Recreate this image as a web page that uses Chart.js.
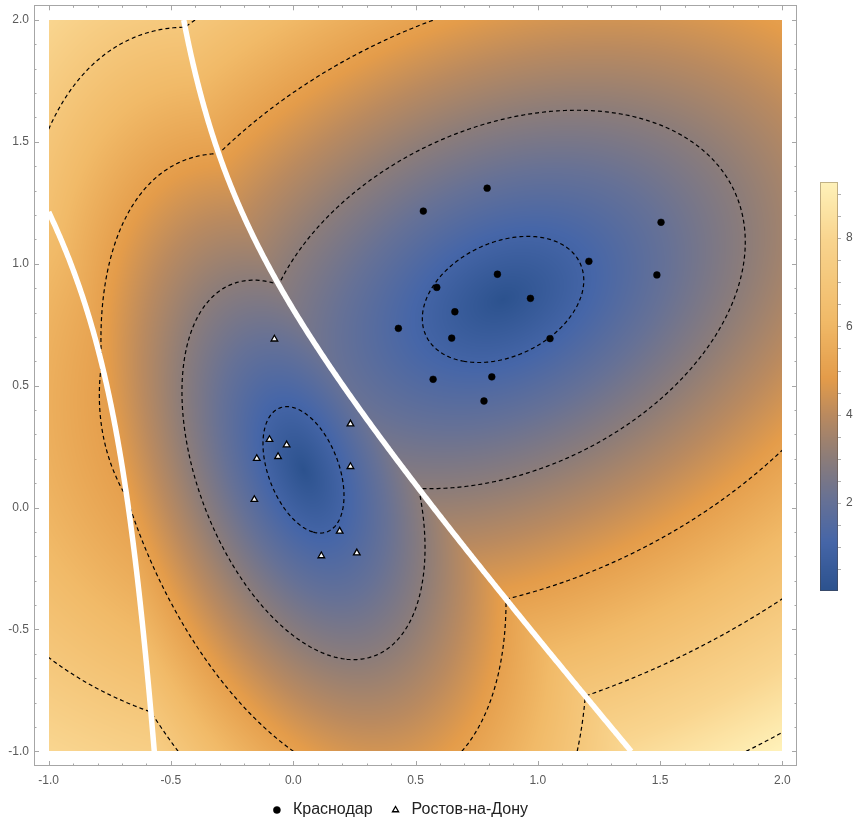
<!DOCTYPE html>
<html>
<head>
  <meta charset="utf-8">
  <title>Краснодар / Ростов-на-Дону</title>
  <script src="https://cdnjs.cloudflare.com/ajax/libs/Chart.js/4.4.0/chart.umd.min.js"></script>
  <style>
    html, body {
      margin: 0;
      padding: 0;
      background-color: #ffffff;
    }
    canvas {
      display: block;
    }
  </style>
</head>
<body>
  <canvas id="myChart" width="856" height="822"></canvas>

  <script>
    // Точки двух классов
    const krasnodarX = [0.793, 0.532, 1.504, 1.209, 1.487, 0.835, 0.587, 0.970, 0.661, 0.430, 0.648, 1.050, 0.572, 0.812, 0.780];
    const krasnodarY = [1.310, 1.216, 1.170, 1.010, 0.954, 0.957, 0.903, 0.858, 0.803, 0.735, 0.695, 0.693, 0.526, 0.536, 0.437];
    const rostovX = [-0.077, 0.234, -0.097, -0.027, -0.149, -0.062, 0.234, -0.159, 0.190, 0.115, 0.260];
    const rostovY = [0.691, 0.343, 0.279, 0.257, 0.201, 0.209, 0.168, 0.033, -0.097, -0.198, -0.186];
    const seriesNames = ['Краснодар', 'Ростов-на-Дону'];

    // оси и уровни
    const plotRange = [-1, 2];
    const axisTicks = [-1, -0.5, 0, 0.5, 1, 1.5, 2];
    const contourLevels = [1, 3, 5, 7, 9];
    const barTicks = [2, 4, 6, 8];

    // палитра (как в Mathematica)
    const gradient = [
      [0.00, [44, 82, 142]],
      [0.12, [70, 102, 168]],
      [0.22, [102, 113, 150]],
      [0.33, [142, 125, 120]],
      [0.43, [186, 138, 95]],
      [0.52, [228, 156, 74]],
      [0.66, [241, 186, 104]],
      [0.86, [249, 213, 143]],
      [1.00, [255, 242, 186]]
    ];
    const FONT = "'Liberation Sans', Arial, sans-serif";

    function colorAt(t) {
      t = Math.max(0, Math.min(1, t));
      for (let i = 1; i < gradient.length; i++) {
        if (t <= gradient[i][0]) {
          const [t0, c0] = gradient[i - 1];
          const [t1, c1] = gradient[i];
          const f = (t - t0) / (t1 - t0);
          return [0, 1, 2].map(k => c0[k] + (c1[k] - c0[k]) * f);
        }
      }
      return gradient[gradient.length - 1][1];
    }

    // среднее и обратная ковариация для каждого класса
    function classStats(xs, ys) {
      const n = xs.length;
      const mx = xs.reduce((a, b) => a + b, 0) / n;
      const my = ys.reduce((a, b) => a + b, 0) / n;
      let sxx = 0, syy = 0, sxy = 0;
      for (let i = 0; i < n; i++) {
        const dx = xs[i] - mx, dy = ys[i] - my;
        sxx += dx * dx; syy += dy * dy; sxy += dx * dy;
      }
      sxx /= n - 1; syy /= n - 1; sxy /= n - 1;
      const det = sxx * syy - sxy * sxy;
      return {mx, my, a: syy / det, b: -sxy / det, c: sxx / det};
    }
    const statK = classStats(krasnodarX, krasnodarY);
    const statR = classStats(rostovX, rostovY);

    function mahal(s, x, y) {
      const dx = x - s.mx, dy = y - s.my;
      return Math.sqrt(s.a * dx * dx + 2 * s.b * dx * dy + s.c * dy * dy);
    }
    const fieldAt = (x, y) => Math.min(mahal(statK, x, y), mahal(statR, x, y));
    const borderAt = (x, y) => mahal(statK, x, y) - mahal(statR, x, y);

    // marching squares + склейка отрезков в линии
    function traceContours(vals, n, level) {
      const pts = {};
      const segs = [];
      function edge(id, ia, ja, ib, jb) {
        if (!(id in pts)) {
          const va = vals[ja * n + ia], vb = vals[jb * n + ib];
          const t = (level - va) / (vb - va);
          pts[id] = [ia + t * (ib - ia), ja + t * (jb - ja)];
        }
        return id;
      }
      const table = {1: [[3, 0]], 2: [[0, 1]], 3: [[3, 1]], 4: [[1, 2]], 5: [[3, 0], [1, 2]], 6: [[0, 2]], 7: [[3, 2]],
        8: [[2, 3]], 9: [[0, 2]], 10: [[0, 1], [2, 3]], 11: [[1, 2]], 12: [[1, 3]], 13: [[0, 1]], 14: [[3, 0]]};
      for (let j = 0; j < n - 1; j++) {
        for (let i = 0; i < n - 1; i++) {
          const k = (vals[j * n + i] > level ? 1 : 0) | (vals[j * n + i + 1] > level ? 2 : 0) |
            (vals[(j + 1) * n + i + 1] > level ? 4 : 0) | (vals[(j + 1) * n + i] > level ? 8 : 0);
          const pairs = table[k];
          if (!pairs) continue;
          const ids = [
            () => edge('h' + i + '_' + j, i, j, i + 1, j),
            () => edge('v' + (i + 1) + '_' + j, i + 1, j, i + 1, j + 1),
            () => edge('h' + i + '_' + (j + 1), i, j + 1, i + 1, j + 1),
            () => edge('v' + i + '_' + j, i, j, i, j + 1)
          ];
          for (const [a, b] of pairs) segs.push([ids[a](), ids[b]()]);
        }
      }
      const byEdge = {};
      segs.forEach((s, k) => {
        (byEdge[s[0]] = byEdge[s[0]] || []).push(k);
        (byEdge[s[1]] = byEdge[s[1]] || []).push(k);
      });
      const used = new Uint8Array(segs.length);
      const lines = [];
      for (let k = 0; k < segs.length; k++) {
        if (used[k]) continue;
        used[k] = 1;
        const line = [segs[k][0], segs[k][1]];
        for (let dir = 0; dir < 2; dir++) {
          while (true) {
            const end = line[line.length - 1];
            const next = (byEdge[end] || []).find(m => !used[m]);
            if (next === undefined) break;
            used[next] = 1;
            const s = segs[next];
            line.push(s[0] === end ? s[1] : s[0]);
          }
          line.reverse();
        }
        lines.push(line.map(id => pts[id]));
      }
      return lines;
    }

    // фон: плотность, контуры, граница классов
    const fieldPlugin = {
      id: 'field',
      beforeDatasetsDraw(chart) {
        const {ctx, scales: {x, y}} = chart;
        const x0 = Math.round(x.getPixelForValue(plotRange[0]));
        const x1 = Math.round(x.getPixelForValue(plotRange[1]));
        const y0 = Math.round(y.getPixelForValue(plotRange[1]));
        const y1 = Math.round(y.getPixelForValue(plotRange[0]));
        const w = x1 - x0, h = y1 - y0;

        const vals = new Float32Array(w * h);
        let vmin = Infinity, vmax = -Infinity;
        for (let j = 0; j < h; j++) {
          const vy = y.getValueForPixel(y0 + j + 0.5);
          for (let i = 0; i < w; i++) {
            const v = fieldAt(x.getValueForPixel(x0 + i + 0.5), vy);
            vals[j * w + i] = v;
            if (v < vmin) vmin = v;
            if (v > vmax) vmax = v;
          }
        }
        chart.$range = [vmin, vmax];

        const off = document.createElement('canvas');
        off.width = w; off.height = h;
        const octx = off.getContext('2d');
        const img = octx.createImageData(w, h);
        for (let p = 0; p < w * h; p++) {
          const c = colorAt((vals[p] - vmin) / (vmax - vmin));
          img.data[p * 4] = c[0];
          img.data[p * 4 + 1] = c[1];
          img.data[p * 4 + 2] = c[2];
          img.data[p * 4 + 3] = 255;
        }
        octx.putImageData(img, 0, 0);
        ctx.drawImage(off, x0, y0);

        // сетка для контуров
        const n = 301;
        const step = (plotRange[1] - plotRange[0]) / (n - 1);
        const grid = new Float32Array(n * n);
        const gridB = new Float32Array(n * n);
        for (let j = 0; j < n; j++) {
          for (let i = 0; i < n; i++) {
            const gx = plotRange[0] + i * step, gy = plotRange[0] + j * step;
            grid[j * n + i] = fieldAt(gx, gy);
            gridB[j * n + i] = borderAt(gx, gy);
          }
        }
        const toPx = p => [x.getPixelForValue(plotRange[0] + p[0] * step), y.getPixelForValue(plotRange[0] + p[1] * step)];
        const strokeLines = lines => {
          lines.forEach(line => {
            ctx.beginPath();
            line.forEach((p, k) => {
              const [px, py] = toPx(p);
              if (k === 0) ctx.moveTo(px, py); else ctx.lineTo(px, py);
            });
            ctx.stroke();
          });
        };

        ctx.save();
        ctx.beginPath();
        ctx.rect(x0, y0, w, h);
        ctx.clip();

        ctx.strokeStyle = '#000';
        ctx.lineWidth = 1.2;
        ctx.setLineDash([4, 3]);
        contourLevels.forEach(level => strokeLines(traceContours(grid, n, level)));

        ctx.setLineDash([]);
        ctx.strokeStyle = '#ffffff';
        ctx.lineWidth = 5.5;
        strokeLines(traceContours(gridB, n, 0));
        ctx.restore();
      }
    };

    // рамка с засечками внутрь
    const framePlugin = {
      id: 'frame',
      afterDatasetsDraw(chart) {
        const {ctx, chartArea: a, scales: {x, y}} = chart;
        ctx.save();
        ctx.strokeStyle = '#a6a6a6';
        ctx.lineWidth = 1;
        ctx.strokeRect(Math.round(a.left) + 0.5, Math.round(a.top) + 0.5,
          Math.round(a.right - a.left) - 1, Math.round(a.bottom - a.top) - 1);
        const minor = [];
        for (let k = 0; k < axisTicks.length - 1; k++) {
          for (let m = 1; m < 5; m++) minor.push(axisTicks[k] + (axisTicks[k + 1] - axisTicks[k]) * m / 5);
        }
        ctx.beginPath();
        const marks = (vals, len) => {
          vals.forEach(v => {
            const px = Math.round(x.getPixelForValue(v)) + 0.5;
            const py = Math.round(y.getPixelForValue(v)) + 0.5;
            ctx.moveTo(px, a.bottom); ctx.lineTo(px, a.bottom - len);
            ctx.moveTo(px, a.top); ctx.lineTo(px, a.top + len);
            ctx.moveTo(a.left, py); ctx.lineTo(a.left + len, py);
            ctx.moveTo(a.right, py); ctx.lineTo(a.right - len, py);
          });
        };
        marks(axisTicks, 5);
        marks(minor, 2.5);
        ctx.stroke();
        ctx.restore();
      }
    };

    // шкала цвета справа
    const colorbarPlugin = {
      id: 'colorbar',
      afterDraw(chart) {
        const {ctx, chartArea: a} = chart;
        const [vmin, vmax] = chart.$range;
        const left = a.right + 23, width = 18, top = 182, bottom = 591;
        const h = bottom - top;
        for (let j = 0; j < h; j++) {
          const c = colorAt((h - j - 0.5) / h);
          ctx.fillStyle = `rgb(${c[0] | 0},${c[1] | 0},${c[2] | 0})`;
          ctx.fillRect(left, top + j, width, 1);
        }
        ctx.save();
        ctx.strokeStyle = 'rgba(80,60,40,0.35)';
        ctx.lineWidth = 1;
        ctx.strokeRect(left + 0.5, top + 0.5, width - 1, h - 1);
        const vToY = v => bottom - (v - vmin) / (vmax - vmin) * h;
        ctx.strokeStyle = '#b0b0b0';
        ctx.beginPath();
        for (let v = 0.5; v < vmax; v += 0.5) {
          if (v < vmin) continue;
          const py = Math.round(vToY(v)) + 0.5;
          ctx.moveTo(left + width, py);
          ctx.lineTo(left + width + 3, py);
        }
        ctx.stroke();
        ctx.fillStyle = '#555';
        ctx.font = '12px ' + FONT;
        ctx.textAlign = 'left';
        ctx.textBaseline = 'middle';
        barTicks.forEach(v => ctx.fillText(String(v), left + width + 8, vToY(v)));
        ctx.restore();
      }
    };

    const pad = (plotRange[1] - plotRange[0]) * 0.02;
    const tickOpts = {
      color: '#5a5a5a',
      font: {size: 12, family: FONT},
      callback: v => v.toFixed(1)
    };

    const myChart = new Chart(document.getElementById('myChart'), {
      type: 'scatter',
      data: {
        datasets: [
          {
            label: seriesNames[0],
            data: krasnodarX.map((v, i) => ({x: v, y: krasnodarY[i]})),
            pointStyle: 'circle',
            pointRadius: 3.4,
            backgroundColor: '#000000',
            borderColor: '#000000',
            borderWidth: 0.5
          },
          {
            label: seriesNames[1],
            data: rostovX.map((v, i) => ({x: v, y: rostovY[i]})),
            pointStyle: 'triangle',
            pointRadius: 3.8,
            backgroundColor: '#ffffff',
            borderColor: '#000000',
            borderWidth: 1.3
          }
        ]
      },
      options: {
        responsive: false,
        animation: false,
        layout: {
          padding: {top: 5, right: 59, left: 0, bottom: -6}
        },
        scales: {
          x: {
            type: 'linear',
            min: plotRange[0] - pad,
            max: plotRange[1] + pad,
            grid: {display: false, drawTicks: false},
            border: {display: false},
            ticks: Object.assign({padding: 7, maxRotation: 0}, tickOpts),
            afterBuildTicks: s => { s.ticks = axisTicks.map(v => ({value: v})); },
            afterFit: s => { s.height = 21; s.paddingLeft = 0; s.paddingRight = 0; }
          },
          y: {
            type: 'linear',
            min: plotRange[0] - pad,
            max: plotRange[1] + pad,
            grid: {display: false, drawTicks: false},
            border: {display: false},
            ticks: Object.assign({padding: 5}, tickOpts),
            afterBuildTicks: s => { s.ticks = axisTicks.map(v => ({value: v})); },
            afterFit: s => { s.width = 34; s.paddingTop = 0; s.paddingBottom = 0; }
          }
        },
        plugins: {
          legend: {
            position: 'bottom',
            labels: {
              usePointStyle: true,
              boxHeight: 5,
              padding: 15,
              color: '#222',
              font: {size: 16, family: FONT}
            }
          },
          tooltip: {enabled: false}
        }
      },
      plugins: [fieldPlugin, framePlugin, colorbarPlugin]
    });
  </script>
</body>
</html>
